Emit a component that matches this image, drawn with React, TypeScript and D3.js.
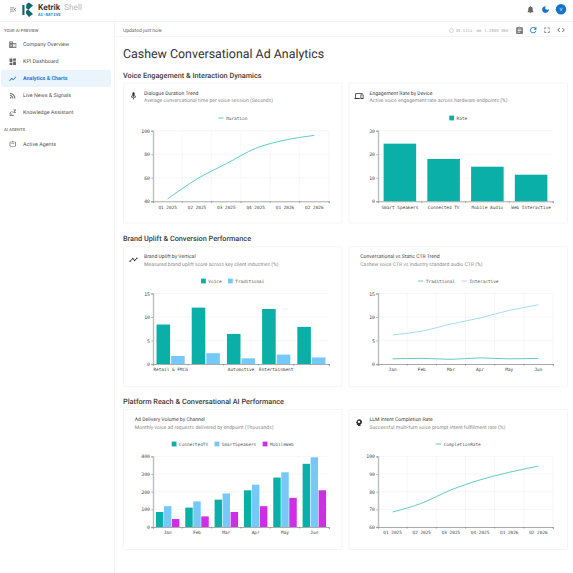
import * as React from 'react';
import * as d3 from 'd3';

const TEAL = '#0aafa8';
const SKY = '#74c9f9';
const MAGENTA = '#cf2ee6';
const LINE_TEAL = '#5ccfc5';
const LINE_SKY = '#a5dcf7';

const quarters = ['Q1 2025', 'Q2 2025', 'Q3 2025', 'Q4 2025', 'Q1 2026', 'Q2 2026'];
const months = ['Jan', 'Feb', 'Mar', 'Apr', 'May', 'Jun'];

const durationValues = [42, 59, 72, 85, 92, 96];
const deviceLabels = ['Smart Speakers', 'Connected TV', 'Mobile Audio', 'Web Interactive'];
const rateValues = [24.5, 18, 14.7, 11.3];
// two of the vertical labels are dropped by the axis in the original, they overlap
const verticalLabels = ['Retail & FMCG', '', 'Automotive', 'Entertainment', ''];
const voiceValues = [8.4, 12, 6.4, 11.7, 7.9];
const traditionalValues = [1.7, 2.3, 1.2, 2.0, 1.4];
const ctrTraditional = [1.1, 1.2, 1.0, 1.3, 1.1, 1.2];
const ctrInteractive = [6.2, 7, 8.5, 9.8, 11.4, 12.6];
const connectedTv = [85, 110, 155, 208, 280, 358];
const smartSpeakers = [118, 145, 190, 240, 310, 395];
const mobileWeb = [45, 60, 85, 118, 165, 208];
const completionValues = [68.5, 73.5, 81, 86.7, 91, 94.5];

const navItems = ['Company Overview', 'KPI Dashboard', 'Analytics & Charts', 'Live News & Signals', 'Knowledge Assistant'];

const SANS = 'Roboto, sans-serif';
const MONO = '"DejaVu Sans Mono", monospace';

const icons: Record<string, string> = {
  menu: 'M3 18h13v-2H3v2zm0-5h10v-2H3v2zm0-7v2h13V6H3zm18 9.59L17.42 12 21 8.41 19.59 7l-5 5 5 5L21 15.59z',
  bell: 'M12 22c1.1 0 2-.9 2-2h-4c0 1.1.89 2 2 2zm6-6v-5c0-3.07-1.64-5.64-4.5-6.32V4c0-.83-.67-1.5-1.5-1.5s-1.5.67-1.5 1.5v.68C7.63 5.36 6 7.92 6 11v5l-2 2v1h16v-1l-2-2z',
  moon: 'M12 3c-4.97 0-9 4.03-9 9s4.03 9 9 9 9-4.03 9-9c0-.46-.04-.92-.1-1.36-.98 1.37-2.58 2.26-4.4 2.26-2.98 0-5.4-2.42-5.4-5.4 0-1.81.89-3.42 2.26-4.4-.44-.06-.9-.1-1.36-.1z',
  mic: 'M12 14c1.66 0 2.99-1.34 2.99-3L15 5c0-1.66-1.34-3-3-3S9 3.34 9 5v6c0 1.66 1.34 3 3 3zm5.3-3c0 3-2.54 5.1-5.3 5.1S6.7 14 6.7 11H5c0 3.41 2.72 6.23 6 6.72V21h2v-3.28c3.28-.48 6-3.3 6-6.72h-1.7z',
  refresh: 'M17.65 6.35C16.2 4.9 14.21 4 12 4c-4.42 0-7.99 3.58-7.99 8s3.57 8 7.99 8c3.73 0 6.84-2.55 7.73-6h-2.08c-.82 2.33-3.04 4-5.65 4-3.31 0-6-2.69-6-6s2.69-6 6-6c1.66 0 3.14.69 4.22 1.78L13 11h7V4l-2.35 2.35z',
  fullscreen: 'M7 14H5v5h5v-2H7v-3zm-2-4h2V7h3V5H5v5zm12 7h-3v2h5v-5h-2v3zM14 5v2h3v3h2V5h-5z',
  code: 'M9.4 16.6L4.8 12l4.6-4.6L8 6l-6 6 6 6 1.4-1.4zm5.2 0l4.6-4.6-4.6-4.6L16 6l6 6-6 6-1.4-1.4z',
  chart: 'M3.5 18.49l6-6.01 4 4L22 6.92l-1.41-1.41-7.09 7.97-4-4L2 16.99z',
  rss: 'M6.18 15.64a2.18 2.18 0 1 0 0 4.36 2.18 2.18 0 0 0 0-4.36zM4 4.44v2.83c7.03 0 12.73 5.7 12.73 12.73h2.83c0-8.59-6.97-15.56-15.56-15.56zm0 5.66v2.83c3.9 0 7.07 3.17 7.07 7.07h2.83c0-5.47-4.43-9.9-9.9-9.9z',
  business: 'M12 7V3H2v18h20V7H12zM6 19H4v-2h2v2zm0-4H4v-2h2v2zm0-4H4V9h2v2zm0-4H4V5h2v2zm4 12H8v-2h2v2zm0-4H8v-2h2v2zm0-4H8V9h2v2zm0-4H8V5h2v2zm10 12h-8v-2h2v-2h-2v-2h2v-2h-2V9h8v10zm-2-8h-2v2h2v-2zm0 4h-2v2h2v-2z',
  dashboard: 'M3 13h8V3H3v10zm0 8h8v-6H3v6zm10 0h8V11h-8v10zm0-18v6h8V3h-8z',
  devices: 'M4 6h18V4H4c-1.1 0-2 .9-2 2v11H0v3h14v-3H4V6zm19 2h-6c-.55 0-1 .45-1 1v10c0 .55.45 1 1 1h6c.55 0 1-.45 1-1V9c0-.55-.45-1-1-1zm-1 9h-4v-7h4v7z',
  trend: 'M23 8c0 1.1-.9 2-2 2-.18 0-.35-.02-.51-.07l-3.56 3.55c.05.16.07.34.07.52 0 1.1-.9 2-2 2s-2-.9-2-2c0-.18.02-.36.07-.52l-2.55-2.55c-.16.05-.34.07-.52.07s-.36-.02-.52-.07l-4.55 4.56c.05.16.07.33.07.51 0 1.1-.9 2-2 2s-2-.9-2-2 .9-2 2-2c.18 0 .35.02.51.07l4.56-4.55C8.02 9.36 8 9.18 8 9c0-1.1.9-2 2-2s2 .9 2 2c0 .18-.02.36-.07.52l2.55 2.55c.16-.05.34-.07.52-.07s.36.02.52.07l3.55-3.56C19.02 8.35 19 8.18 19 8c0-1.1.9-2 2-2s2 .9 2 2z',
  assignment: 'M19 3h-4.18C14.4 1.84 13.3 1 12 1c-1.3 0-2.4.84-2.82 2H5c-1.1 0-2 .9-2 2v14c0 1.1.9 2 2 2h14c1.1 0 2-.9 2-2V5c0-1.1-.9-2-2-2zm-7 0c.55 0 1 .45 1 1s-.45 1-1 1-1-.45-1-1 .45-1 1-1zm2 14H7v-2h7v2zm3-4H7v-2h10v2zm0-4H7V7h10v2z',
  head: 'M13 3C9.2 3 6.1 5.9 6 9.6L4 12.5c-.3.4 0 .9.5.9H6v3c0 1.1.9 2 2 2h1v3h7v-4.7c2.4-1.1 4-3.5 4-6.3 0-4-3-7.4-7-7.4zm-1 4a3.2 3.2 0 1 1 0 6.4A3.2 3.2 0 0 1 12 7z',
  agent: 'M12 3l2 3h4a3 3 0 0 1 3 3v8a3 3 0 0 1-3 3H6a3 3 0 0 1-3-3V9a3 3 0 0 1 3-3h4l2-3zM6 8a1 1 0 0 0-1 1v8a1 1 0 0 0 1 1h12a1 1 0 0 0 1-1V9a1 1 0 0 0-1-1H6zm2 3h8v2H8v-2z',
  assistant: 'M14 3h7v2l-4 5h4v2h-7v-2l4-5h-4V3zM3 14a6 6 0 0 1 9-5v2.5A4 4 0 0 0 5 14v1h6v2H3v-3zm0 5h12v2H3v-2z',
};

function Icon({ name, x, y, size, fill }: { name: string; x: number; y: number; size: number; fill: string }) {
  return <path d={icons[name]} fill={fill} transform={`translate(${x},${y}) scale(${size / 24})`} />;
}

interface Series {
  name: string;
  color: string;
  values: number[];
}

interface ChartProps {
  kind: 'bar' | 'line';
  left: number;
  right: number;
  top: number;
  bottom: number;
  legendX: number;
  legendY: number;
  labels: string[];
  series: Series[];
  domain: [number, number];
  ticks: number[];
}

function Chart({ kind, left, right, top, bottom, legendX, legendY, labels, series, domain, ticks }: ChartProps) {
  const xRef = React.useRef<SVGGElement>(null);
  const yRef = React.useRef<SVGGElement>(null);

  const band = labels.map((_, i) => String(i));
  const x = d3.scaleBand().domain(band).range([left, right]).paddingInner(kind === 'bar' ? 0.2 : 0).paddingOuter(kind === 'bar' ? 0.1 : 0);
  const y = d3.scaleLinear().domain(domain).range([bottom, top]);
  const inner = d3.scaleBand().domain(series.map(s => s.name)).range([0, x.bandwidth()]).paddingInner(0.07);
  const line = d3.line<number>()
    .x((_, i) => (x(String(i)) as number) + x.bandwidth() / 2)
    .y(d => y(d))
    .curve(d3.curveMonotoneX);

  React.useEffect(() => {
    const xAxis = d3.axisBottom(x).tickFormat((_, i) => labels[i]).tickSize(1.8).tickPadding(2.5);
    const yAxis = d3.axisLeft(y).tickValues(ticks).tickSize(1.8).tickPadding(1.2);
    const gx = d3.select(xRef.current as SVGGElement).call(xAxis as any);
    const gy = d3.select(yRef.current as SVGGElement).call(yAxis as any);
    gx.attr('font-family', MONO).attr('font-size', 4.4);
    gy.attr('font-family', MONO).attr('font-size', 4.8);
    for (const g of [gx, gy]) {
      g.selectAll('text').attr('fill', '#444');
      g.selectAll('line').attr('stroke', '#777').attr('stroke-width', 0.5);
    }
    // ticks sit on the band edges, labels stay centred
    gx.selectAll('.tick line').attr('x1', x.step() / 2).attr('x2', x.step() / 2);
    gx.select('.domain').attr('stroke', '#777').attr('stroke-width', 0.6);
    gy.select('.domain').attr('stroke', '#bdbdbd').attr('stroke-width', 1.4);
  }, []);

  // legend is centred on the card, not the plot
  const legendFont = 4.4;
  const keyWidth = kind === 'bar' ? 7.3 : 8;
  const entryWidth = (s: Series) => keyWidth + s.name.length * legendFont * 0.602;
  const gap = 6.4;
  const totalWidth = d3.sum(series, entryWidth) + gap * (series.length - 1);
  let cursor = legendX - totalWidth / 2;

  return (
    <g>
      <g>
        {ticks.map(t => (
          <line key={t} x1={left} x2={right} y1={y(t)} y2={y(t)} stroke="#efefef" strokeWidth={0.5} />
        ))}
        {kind === 'line' && band.map(b => (
          <line key={b} x1={(x(b) as number) + x.bandwidth()} x2={(x(b) as number) + x.bandwidth()} y1={top} y2={bottom} stroke="#efefef" strokeWidth={0.5} />
        ))}
      </g>
      {kind === 'bar' && series.map(s => (
        <g key={s.name}>
          {s.values.map((v, i) => (
            <rect
              key={i}
              x={(x(String(i)) as number) + (inner(s.name) as number)}
              y={y(v)}
              width={inner.bandwidth()}
              height={y(domain[0]) - y(v)}
              fill={s.color}
            />
          ))}
        </g>
      ))}
      {kind === 'line' && series.map(s => (
        <path key={s.name} d={line(s.values) as string} fill="none" stroke={s.color} strokeWidth={1} />
      ))}
      <g ref={yRef} transform={`translate(${left},0)`} />
      <g ref={xRef} transform={`translate(0,${bottom})`} />
      {series.map(s => {
        const start = cursor;
        cursor += entryWidth(s) + gap;
        return (
          <g key={s.name}>
            {kind === 'bar'
              ? <rect x={start} y={legendY - 2.4} width={4.8} height={4.8} fill={s.color} />
              : <line x1={start} x2={start + 5.4} y1={legendY} y2={legendY} stroke={s.color} strokeWidth={1} />}
            <text x={start + keyWidth} y={legendY + 1.6} fontFamily={MONO} fontSize={legendFont} fill="#555">{s.name}</text>
          </g>
        );
      })}
    </g>
  );
}

function Card({ x, y, w, h, icon, title, sub }: { x: number; y: number; w: number; h: number; icon?: string; title: string; sub: string }) {
  const textX = icon ? x + 20.5 : x + 11.3;
  return (
    <g>
      <rect x={x} y={y} width={w} height={h} fill="#fff" stroke="#efefef" strokeWidth={0.6} rx={1} />
      {icon && <Icon name={icon} x={x + 5.5} y={y + 8.5} size={9} fill="#333" />}
      <text x={textX} y={y + 11.5} fontFamily={SANS} fontSize={5.1} fill="#444">{title}</text>
      <text x={textX} y={y + 19} fontFamily={SANS} fontSize={5.1} fill="#8c8c8c">{sub}</text>
    </g>
  );
}

export default function App() {
  const sectionStyle = { fontFamily: SANS, fontSize: 7.3, fontWeight: 500, fill: '#3a3a3a' };
  return (
    <div>
      <style>{'body{margin:0;overflow:hidden;background:#fff}'}</style>
      <svg width={573} height={573} viewBox="0 0 573 573" style={{ display: 'block', textRendering: 'geometricPrecision' }}>
        <rect width={573} height={573} fill="#fff" />
        {/* top bar */}
        <line x1={0} x2={573} y1={21.5} y2={21.5} stroke="#ececec" strokeWidth={0.6} />
        <Icon name="menu" x={9} y={5.5} size={8} fill="#777" />
        <g fill="#14696e">
          <rect x={22.3} y={5} width={2.2} height={10} />
          <path d="M26.5 4 L29 2.5 L33 5.5 L28.5 9.8 L33 14 L29 17 L26 13.5 L26 11 L28 9.8 L26 8 Z" />
        </g>
        <text x={38} y={9.8} fontFamily={SANS} fontSize={8.3} fontWeight={700} fill="#3c3c3c">Ketrik</text>
        <text x={64} y={9.8} fontFamily={SANS} fontSize={8.3} fill="#b5b5b5">Shell</text>
        <text x={38} y={15.8} fontFamily={MONO} fontSize={4.2} fontWeight={700} fill="#2f80c8">AI-NATIVE</text>
        <Icon name="bell" x={526} y={5} size={9} fill="#666" />
        <Icon name="moon" x={541} y={5} size={9} fill="#1473cc" />
        <circle cx={561} cy={9.3} r={5.2} fill="#1473cc" />
        <text x={561} y={11} textAnchor="middle" fontFamily={SANS} fontSize={4.5} fill="#fff">V</text>

        {/* sidebar */}
        <line x1={114.5} x2={114.5} y1={21.5} y2={573} stroke="#ececec" strokeWidth={0.6} />
        <text x={4} y={31.5} fontFamily={SANS} fontSize={4.2} fontWeight={500} fill="#777">YOUR AI PREVIEW</text>
        <rect x={1} y={70} width={110} height={17} rx={2.5} fill="#eaf4fc" />
        {navItems.map((label, i) => {
          const rowY = 44.5 + i * 17;
          const active = i === 2;
          return (
            <g key={label}>
              <Icon name={['business', 'dashboard', 'chart', 'rss', 'assistant'][i]} x={8.5} y={rowY - 4} size={8.5} fill={active ? '#1473cc' : '#666'} />
              <text x={23} y={rowY + 1.9} fontFamily={SANS} fontSize={5.4} fontWeight={active ? 600 : 400} fill={active ? '#1473cc' : '#555'}>{label}</text>
            </g>
          );
        })}
        <text x={4} y={131} fontFamily={SANS} fontSize={4.2} fontWeight={500} fill="#777">AI AGENTS</text>
        <Icon name="agent" x={8.5} y={139.5} size={8.5} fill="#666" />
        <text x={23} y={145.8} fontFamily={SANS} fontSize={5.4} fill="#555">Active Agents</text>

        {/* toolbar */}
        <line x1={115} x2={568} y1={36.5} y2={36.5} stroke="#efefef" strokeWidth={0.6} />
        <text x={123} y={32.2} fontFamily={SANS} fontSize={5} fill="#666">Updated just now</text>
        <circle cx={451.5} cy={30.5} r={2} fill="none" stroke="#aaa" strokeWidth={0.5} />
        <text x={455.7} y={32} fontFamily={MONO} fontSize={3.95} fill="#aaa">33.511s</text>
        <line x1={474} x2={474} y1={28} y2={33} stroke="#ddd" strokeWidth={0.4} />
        <text x={476.5} y={32} fontFamily={MONO} fontSize={3.95} fill="#aaa">mm</text>
        <text x={484.3} y={32} fontFamily={MONO} fontSize={3.95} fill="#aaa">1.2000 360</text>
        <line x1={510.7} x2={510.7} y1={28} y2={33} stroke="#ddd" strokeWidth={0.4} />
        <Icon name="assignment" x={515} y={26} size={9} fill="#777" />
        <Icon name="refresh" x={528.5} y={25.3} size={9.5} fill="#1473cc" />
        <Icon name="fullscreen" x={542.5} y={25.5} size={9} fill="#666" />
        <Icon name="code" x={556.5} y={25.5} size={9} fill="#666" />

        <text x={123} y={57.8} fontFamily={SANS} fontSize={12.4} fill="#333">Cashew Conversational Ad Analytics</text>

        <text x={123} y={78.4} {...sectionStyle}>Voice Engagement &amp; Interaction Dynamics</text>
        <Card x={123.5} y={83} w={218.5} h={140} icon="mic" title="Dialogue Duration Trend" sub="Average conversational time per voice session (Seconds)" />
        <Chart kind="line" left={153} right={329} top={130.7} bottom={201.3} legendX={232.75} legendY={118} labels={quarters}
          series={[{ name: 'Duration', color: LINE_TEAL, values: durationValues }]} domain={[40, 100]} ticks={[40, 60, 80, 100]} />
        <Card x={349} y={83} w={218.5} h={140} icon="devices" title="Engagement Rate by Device" sub="Active voice engagement rate across hardware endpoints (%)" />
        <Chart kind="bar" left={378} right={553} top={130.7} bottom={201.3} legendX={458.25} legendY={118} labels={deviceLabels}
          series={[{ name: 'Rate', color: TEAL, values: rateValues }]} domain={[0, 30]} ticks={[0, 10, 20, 30]} />

        <text x={123} y={241.4} {...sectionStyle}>Brand Uplift &amp; Conversion Performance</text>
        <Card x={123.5} y={246.7} w={218.5} h={140} icon="trend" title="Brand Uplift by Vertical" sub="Measured brand uplift score across key client industries (%)" />
        <Chart kind="bar" left={153} right={329} top={293.5} bottom={364} legendX={232.75} legendY={281} labels={verticalLabels}
          series={[{ name: 'Voice', color: TEAL, values: voiceValues }, { name: 'Traditional', color: SKY, values: traditionalValues }]} domain={[0, 15]} ticks={[0, 5, 10, 15]} />
        <Card x={349} y={246.7} w={218.5} h={140} title="Conversational vs Static CTR Trend" sub="Cashew voice CTR vs industry standard audio CTR (%)" />
        <Chart kind="line" left={378} right={553} top={293.5} bottom={364} legendX={458.25} legendY={281} labels={months}
          series={[{ name: 'Traditional', color: LINE_TEAL, values: ctrTraditional }, { name: 'Interactive', color: LINE_SKY, values: ctrInteractive }]} domain={[0, 15]} ticks={[0, 5, 10, 15]} />

        <text x={123} y={404.4} {...sectionStyle}>Platform Reach &amp; Conversational AI Performance</text>
        <Card x={123.5} y={409.5} w={218.5} h={140} title="Ad Delivery Volume by Channel" sub="Monthly voice ad requests delivered by endpoint (Thousands)" />
        <Chart kind="bar" left={153} right={329} top={456.4} bottom={527} legendX={232.75} legendY={444} labels={months}
          series={[{ name: 'ConnectedTV', color: TEAL, values: connectedTv }, { name: 'SmartSpeakers', color: SKY, values: smartSpeakers }, { name: 'MobileWeb', color: MAGENTA, values: mobileWeb }]} domain={[0, 400]} ticks={[0, 100, 200, 300, 400]} />
        <Card x={349} y={409.5} w={218.5} h={140} icon="head" title="LLM Intent Completion Rate" sub="Successful multi-turn voice prompt intent fulfillment rate (%)" />
        <Chart kind="line" left={378} right={553} top={456.4} bottom={527} legendX={458.25} legendY={444} labels={quarters}
          series={[{ name: 'CompletionRate', color: LINE_TEAL, values: completionValues }]} domain={[60, 100]} ticks={[60, 70, 80, 90, 100]} />
      </svg>
    </div>
  );
}
